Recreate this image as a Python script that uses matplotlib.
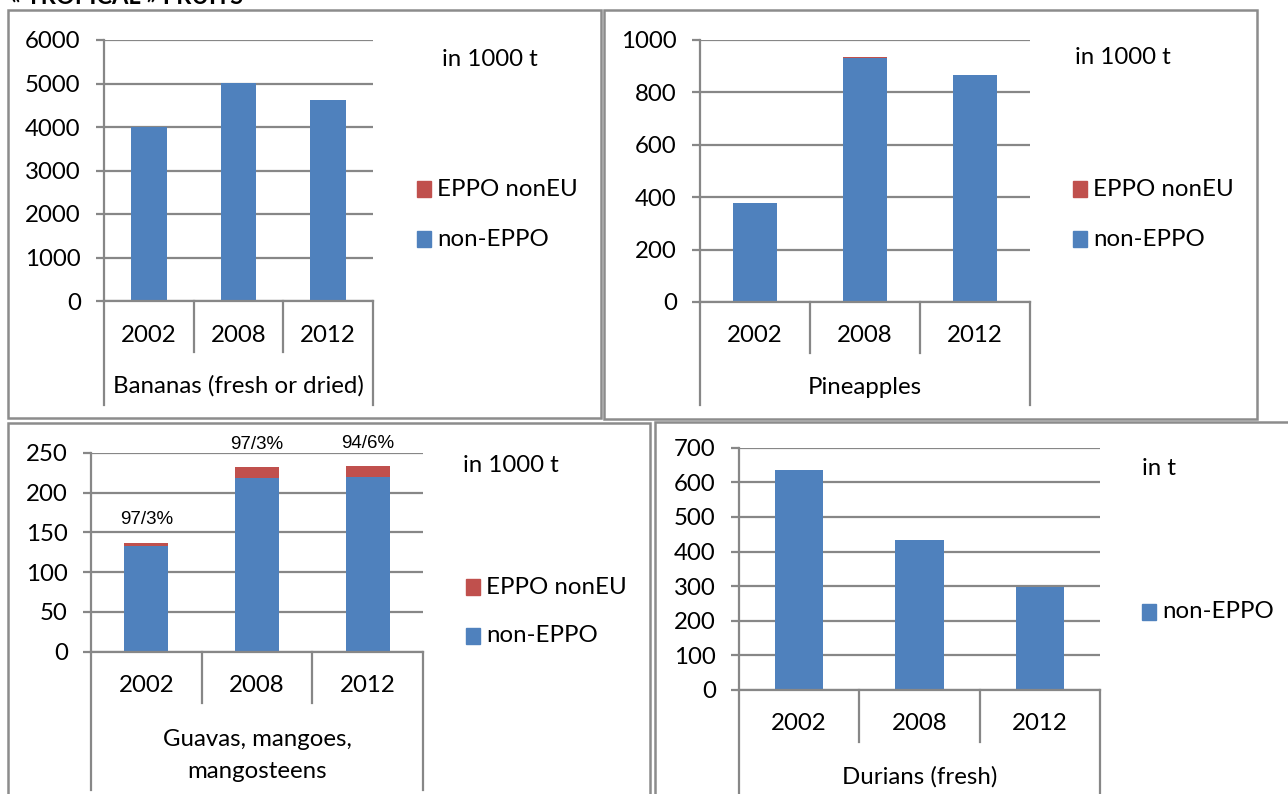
import matplotlib
matplotlib.use("Agg")
import matplotlib.pyplot as plt
from matplotlib.patches import Rectangle
from matplotlib.transforms import blended_transform_factory

plt.rcParams['font.family'] = ['Lato', 'DejaVu Sans']

# ---------------- data ----------------
years = ["2002", "2008", "2012"]

banana_non_eppo = [4000, 5010, 4620]
banana_eppo_noneu = [6, 6, 8]

pineapple_non_eppo = [376, 932, 866]
pineapple_eppo_noneu = [2, 2, 2]

guava_non_eppo = [133, 218, 220]
guava_eppo_noneu = [4, 14, 13]
guava_share_labels = ["97/3%", "97/3%", "94/6%"]

durian_non_eppo = [635, 433, 298]

titles = ["Bananas (fresh or dried)", "Pineapples",
          "Guavas, mangoes,\nmangosteens", "Durians (fresh)"]
units = ["in 1000 t", "in 1000 t", "in 1000 t", "in t"]
fig_title = "« TROPICAL » FRUITS"

# ---------------- style ----------------
W, H = 1288, 794
BLUE = "#4f81bd"
RED = "#c0504d"
GRAY = "#878787"
FS = 17.3

fig = plt.figure(figsize=(W / 100, H / 100), dpi=100)


def fx(px):
    return px / W


def fy(py):
    return 1 - py / H


def border(x0, y0, x1, y1):
    fig.patches.append(Rectangle((fx(x0), fy(y1)), fx(x1) - fx(x0), fy(y0) - fy(y1),
                                 transform=fig.transFigure, fill=False,
                                 edgecolor="#8c8c8c", lw=1.8, zorder=0))


border(8, 10, 601, 418)
border(604, 10, 1257, 419)
border(8, 423, 650, 800)
border(655, 422, 1300, 800)

fig.text(fx(10), fy(3.5), fig_title, fontsize=17, fontweight="bold", va="baseline", ha="left")


def panel(box, ymax, ystep, series, title, unit, sep_bottom, outer_bottom,
          year_y, title_ys, legend_x, legend_ys, unit_xy, pct=None):
    left, right, top, bottom = box
    ax = fig.add_axes([fx(left), fy(bottom), fx(right) - fx(left), fy(top) - fy(bottom)])
    x = list(range(len(years)))
    base = [0] * len(years)
    for vals, color, lab in series:
        ax.bar(x, vals, width=0.4, bottom=base, color=color, edgecolor="none",
               label=lab, zorder=3)
        base = [b + v for b, v in zip(base, vals)]
    ax.set_xlim(-0.5, len(years) - 0.5)
    ax.set_ylim(0, ymax)
    ax.set_yticks(list(range(0, ymax + 1, ystep)))
    ax.yaxis.grid(True, color=GRAY, lw=1.6, zorder=1)
    ax.set_axisbelow(True)
    for s in ["top", "right", "bottom"]:
        ax.spines[s].set_visible(False)
    ax.spines["left"].set_color(GRAY)
    ax.spines["left"].set_linewidth(1.6)
    ax.tick_params(axis="y", length=5.8, width=1.6, color=GRAY, pad=11.0,
                   labelsize=FS)
    ax.tick_params(axis="x", length=0, labelbottom=False)
    ax.axhline(0, color=GRAY, lw=1.6, zorder=4, clip_on=False)

    tr = blended_transform_factory(ax.transData, fig.transFigure)
    # category separators
    for b in [i - 0.5 for i in range(len(years) + 1)]:
        yb = outer_bottom if b in (-0.5, len(years) - 0.5) else sep_bottom
        ax.plot([b, b], [fy(bottom), fy(yb)], transform=tr, color=GRAY,
                lw=1.6, clip_on=False)
    for i, yr in enumerate(years):
        ax.text(i, fy(year_y), yr, transform=tr, ha="center", va="center",
                fontsize=FS)
    for line, ty in zip(title.split("\n"), title_ys):
        ax.text((len(years) - 1) / 2, fy(ty), line, transform=tr, ha="center",
                va="center", fontsize=FS)

    # legend (drawn as patches + text)
    for (vals, color, lab), ly in zip(series[::-1], legend_ys):
        fig.patches.append(Rectangle((fx(legend_x), fy(ly + 8)), fx(14), 16 / H,
                                     transform=fig.transFigure, color=color))
        fig.text(fx(legend_x + 20), fy(ly), lab, fontsize=FS, va="center", ha="left")

    fig.text(fx(unit_xy[0]), fy(unit_xy[1]), unit, fontsize=FS, va="center", ha="left")

    if pct is not None:
        for i, (t, lab) in enumerate(zip(base, pct)):
            ax.annotate(lab, (i, t), xytext=(0, 23), textcoords="offset pixels",
                        ha="center", va="center", fontsize=13.5,
                        family=["Liberation Sans Narrow", "Liberation Sans", "DejaVu Sans"],
                        annotation_clip=False)
    return ax


panel((104, 373, 40, 301), 6000, 1000,
      [(banana_non_eppo, BLUE, "non-EPPO"), (banana_eppo_noneu, RED, "EPPO nonEU")],
      titles[0], units[0], 352, 405, 336, [386], 417, [189, 239], (442, 60))

panel((700, 1030, 40, 302), 1000, 200,
      [(pineapple_non_eppo, BLUE, "non-EPPO"), (pineapple_eppo_noneu, RED, "EPPO nonEU")],
      titles[1], units[1], 353, 405, 336, [388], 1073, [189, 239], (1075, 57))

panel((91, 423, 452.7, 651.7), 250, 50,
      [(guava_non_eppo, BLUE, "non-EPPO"), (guava_eppo_noneu, RED, "EPPO nonEU")],
      titles[2], units[2], 703, 790, 686, [739, 772], 466, [587, 636], (463, 466),
      pct=guava_share_labels)

panel((739, 1100, 447.7, 690), 700, 100,
      [(durian_non_eppo, BLUE, "non-EPPO")],
      titles[3], units[3], 742, 800, 724, [777], 1142, [612], (1142, 469))

fig.savefig("out.png", dpi=100)
